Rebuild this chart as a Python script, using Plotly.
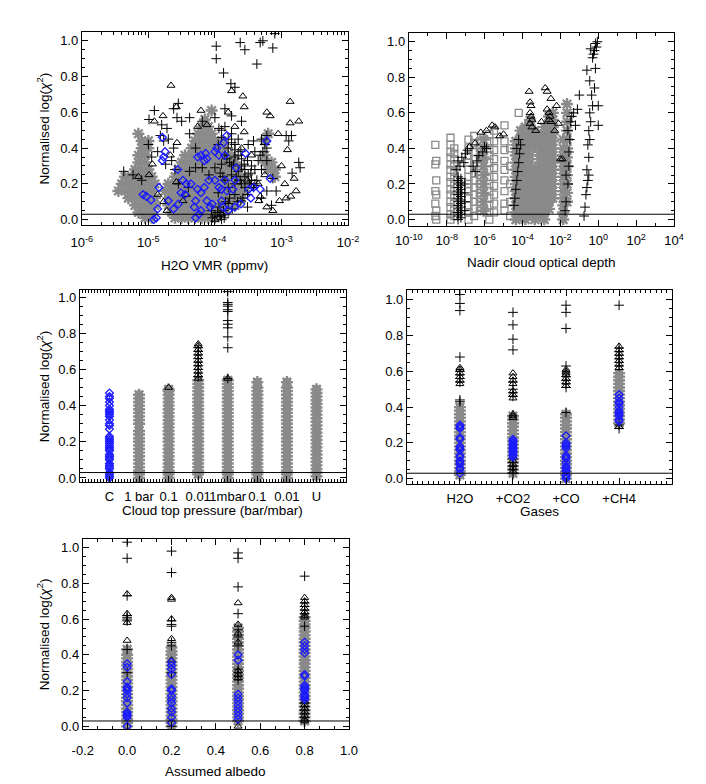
import plotly.graph_objects as go

## Panel 1: H2O VMR (log10 of VMR) vs normalised log(chi^2)
p1_gray = [(-5.05,0.01),(-4.95,0.01),(-4.6,0.01),(-4.5,0.01),(-4.4,0.01),(-4.3,0.01),(-4.2,0.01),(-4.1,0.01),(-4.0,0.01),
    (-5.15,0.04),(-5.05,0.04),(-4.95,0.04),(-4.65,0.04),(-4.55,0.04),(-4.45,0.04),(-4.35,0.04),(-4.25,0.04),(-4.15,0.04),(-4.05,0.04),(-3.95,0.04),(-3.85,0.04),
    (-5.2,0.08),(-5.1,0.08),(-5.0,0.08),(-4.9,0.08),(-4.7,0.08),(-4.6,0.08),(-4.5,0.08),(-4.4,0.08),(-4.3,0.08),(-4.2,0.08),(-4.1,0.08),(-4.0,0.08),(-3.9,0.08),(-3.8,0.08),(-3.7,0.08),
    (-5.3,0.12),(-5.2,0.12),(-5.1,0.12),(-5.0,0.12),(-4.9,0.12),(-4.7,0.12),(-4.6,0.12),(-4.5,0.12),(-4.4,0.12),(-4.3,0.12),(-4.2,0.12),(-4.1,0.12),(-4.0,0.12),(-3.9,0.12),(-3.8,0.12),(-3.7,0.12),(-3.6,0.12),
    (-5.45,0.16),(-5.35,0.16),(-5.25,0.16),(-5.15,0.16),(-5.05,0.16),(-4.95,0.16),(-4.75,0.16),(-4.65,0.16),(-4.55,0.16),(-4.45,0.16),(-4.35,0.16),(-4.25,0.16),(-4.15,0.16),(-4.05,0.16),(-3.95,0.16),(-3.85,0.16),(-3.75,0.16),(-3.65,0.16),(-3.55,0.16),
    (-5.4,0.2),(-5.3,0.2),(-5.2,0.2),(-5.1,0.2),(-5.0,0.2),(-4.9,0.2),(-4.7,0.2),(-4.6,0.2),(-4.5,0.2),(-4.4,0.2),(-4.3,0.2),(-4.2,0.2),(-4.1,0.2),(-4.0,0.2),(-3.9,0.2),(-3.8,0.2),(-3.7,0.2),(-3.6,0.2),(-3.5,0.2),
    (-5.35,0.24),(-5.25,0.24),(-5.15,0.24),(-5.05,0.24),(-4.95,0.24),(-4.6,0.24),(-4.5,0.24),(-4.4,0.24),(-4.3,0.24),(-4.2,0.24),(-4.1,0.24),(-4.0,0.24),(-3.9,0.24),(-3.8,0.24),(-3.7,0.24),(-3.6,0.24),(-3.1,0.24),
    (-5.2,0.28),(-5.1,0.28),(-5.0,0.28),(-4.55,0.28),(-4.45,0.28),(-4.35,0.28),(-4.25,0.28),(-4.15,0.28),(-4.05,0.28),(-3.95,0.28),(-3.85,0.28),(-3.75,0.28),(-3.65,0.28),(-3.2,0.28),(-3.1,0.28),
    (-5.15,0.32),(-5.05,0.32),(-4.5,0.32),(-4.4,0.32),(-4.3,0.32),(-4.2,0.32),(-4.1,0.32),(-4.0,0.32),(-3.9,0.32),(-3.8,0.32),(-3.7,0.32),(-3.25,0.32),(-3.15,0.32),
    (-5.15,0.36),(-5.05,0.36),(-4.45,0.36),(-4.35,0.36),(-4.25,0.36),(-4.15,0.36),(-4.05,0.36),(-3.95,0.36),(-3.85,0.36),(-3.75,0.36),(-3.25,0.36),
    (-5.1,0.4),(-5.0,0.4),(-4.35,0.4),(-4.25,0.4),(-4.15,0.4),(-4.05,0.4),(-3.95,0.4),(-3.85,0.4),
    (-5.1,0.44),(-5.0,0.44),(-4.3,0.44),(-4.2,0.44),(-4.1,0.44),(-4.0,0.44),(-3.9,0.44),(-3.25,0.44),
    (-5.15,0.48),(-4.25,0.48),(-4.15,0.48),(-4.05,0.48),(-3.2,0.48),
    (-4.2,0.52),(-4.1,0.52),(-4.15,0.56),(-4.05,0.61)]
p1_cross = [(-3.98,0.97),(-3.98,0.9),(-3.87,0.82),(-3.62,0.99),(-3.55,0.95),(-3.32,0.99),(-3.28,1.0),(-3.37,0.87),(-3.13,0.96),(-3.1,1.04),(-3.76,0.76),(-3.7,0.74),
    (-4.99,0.56),(-4.91,0.61),(-4.62,0.62),(-4.55,0.65),(-4.57,0.57),(-4.72,0.51),(-4.82,0.47),(-4.77,0.44),(-4.62,0.4),(-4.86,0.38),(-4.74,0.31),(-4.38,0.57),
    (-4.19,0.55),(-4.0,0.57),(-3.94,0.51),(-3.9,0.46),(-3.8,0.4),(-3.7,0.35),(-3.61,0.38),(-3.51,0.33),(-3.42,0.44),(-3.32,0.36),(-3.22,0.4),(-3.22,0.33),
    (-3.13,0.23),(-3.08,0.16),(-3.22,0.16),(-3.37,0.22),(-3.46,0.26),(-3.56,0.31),(-3.75,0.25),(-3.9,0.31),(-4.0,0.29),(-4.09,0.25),(-4.19,0.29),(-4.29,0.29),
    (-4.38,0.27),(-3.94,0.07),(-4.04,0.01),(-3.87,0.05),(-3.8,0.09),(-3.7,0.14),(-3.61,0.105),(-3.51,0.14),(-3.42,0.18),(-3.51,0.07),(-2.93,0.47),(-2.89,0.44),
    (-2.85,0.47),(-2.74,0.32),(-2.72,0.29),(-2.84,0.26),(-3.22,0.47),(-5.37,0.27),(-5.23,0.25),(-4.38,0.48),(-4.29,0.4),(-3.75,0.58),(-3.85,0.62),(-3.6,0.55),
    (-3.5,0.42),(-3.65,0.45),(-3.75,0.48),(-3.45,0.3),(-3.3,0.28),(-3.6,0.2),(-3.7,0.2),(-3.8,0.18),(-3.95,0.15),(-4.05,0.05),(-4.0,0.02),(-3.9,0.0),
    (-4.5,0.55),(-4.8,0.53),(-5.0,0.42),(-4.95,0.35),(-4.7,0.45),(-4.65,0.33),(-5.1,0.22),(-4.55,0.2),(-4.4,0.18),(-4.6,0.28),(-3.3,0.12),(-3.15,0.08),
    (-3.25,0.42),(-3.4,0.38),(-3.85,0.36),(-3.75,0.3),(-3.65,0.27),(-3.55,0.24),(-3.85,0.22),(-3.95,0.42),(-3.7,0.42),(-3.6,0.34),
    (-3.9,0.5),(-3.85,0.52),(-3.8,0.45),(-3.75,0.43),(-3.7,0.39),(-3.65,0.36),(-3.6,0.3),(-3.55,0.28),(-3.5,0.25),(-3.45,0.22),(-3.4,0.2),(-3.82,0.34),
    (-3.78,0.32),(-3.72,0.31),(-3.68,0.24),(-3.62,0.22),(-3.92,0.26),(-3.88,0.24),(-3.96,0.04),(-3.92,0.02),(-3.86,0.01),(-3.84,0.1),(-3.78,0.12),
    (-3.74,0.06),(-3.66,0.1),(-3.58,0.12),(-3.55,0.18),(-3.48,0.2),(-3.4,0.28),(-3.35,0.33),(-3.3,0.45),(-3.28,0.38)]
p1_tri = [(-4.66,0.75),(-4.58,0.63),(-4.78,0.58),(-4.91,0.55),(-2.87,0.66),(-2.74,0.55),(-2.87,0.54),(-3.05,0.48),(-2.91,0.39),(-2.81,0.23),(-2.78,0.16),
    (-2.86,0.13),(-2.93,0.12),(-3.03,0.105),(-3.13,0.05),(-3.22,0.07),(-3.34,0.105),(-3.32,0.13),(-3.51,0.22),(-3.56,0.63),(-3.58,0.69),(-3.75,0.72),
    (-3.8,0.6),(-4.12,0.53),(-4.21,0.61),(-4.26,0.52),(-3.56,0.49),(-3.22,0.6),(-3.17,0.58),(-4.72,0.05),(-4.77,0.1),(-4.48,0.105),(-4.43,0.14),
    (-4.86,0.14),(-4.58,0.21),(-4.99,0.25),(-4.94,0.31),(-4.67,0.36),(-4.57,0.43),(-4.0,0.0),(-3.9,0.03),(-5.15,0.24),(-3.45,0.36),(-3.25,0.25),
    (-3.35,0.2),(-3.6,0.4),(-3.7,0.52),(-3.0,0.3),(-2.95,0.2)]
p1_blue = [(-4.79,0.46),(-4.75,0.38),(-4.77,0.35),(-4.79,0.33),(-4.56,0.28),(-5.08,0.14),(-5.03,0.13),(-4.96,0.11),(-4.86,0.06),(-4.88,0.01),(-4.92,0.0),
    (-4.84,0.18),(-4.7,0.105),(-4.62,0.06),(-4.55,0.087),(-4.51,0.15),(-4.48,0.22),(-4.43,0.2),(-4.36,0.2),(-4.31,0.07),(-4.29,0.01),(-4.24,0.03),
    (-4.21,0.05),(-4.26,0.17),(-4.21,0.15),(-4.16,0.18),(-4.26,0.35),(-4.21,0.36),(-4.14,0.37),(-4.16,0.33),(-4.12,0.34),(-4.09,0.22),(-4.12,0.105),
    (-4.07,0.07),(-4.04,0.087),(-4.0,0.38),(-3.97,0.4),(-3.94,0.36),(-4.0,0.22),(-3.94,0.18),(-3.9,0.105),(-3.9,0.17),(-3.85,0.22),(-3.88,0.07),
    (-3.85,0.36),(-3.8,0.05),(-3.82,0.16),(-3.73,0.17),(-3.7,0.22),(-3.68,0.29),(-3.7,0.07),(-3.61,0.087),(-3.54,0.37),(-3.49,0.17),(-3.46,0.12),
    (-3.42,0.18),(-3.32,0.17),(-3.22,0.44),(-3.17,0.23),(-3.82,0.47),(-3.87,0.43),(-4.29,0.105),(-4.45,0.14)]

## Panel 2: nadir cloud optical depth (log10)
p2_gray_sq = [(-8.6,0.42),(-8.55,0.33),(-8.6,0.31),(-8.55,0.22),(-8.6,0.16),(-8.55,0.14),(-8.6,0.09),(-8.55,0.05),(-8.6,0.02),(-8.55,0.0),
    (-7.8,0.0),(-7.8,0.03),(-7.8,0.07),(-7.8,0.1),(-7.8,0.14),(-7.8,0.17),(-7.8,0.21),(-7.8,0.24),(-7.8,0.28),(-7.8,0.31),(-7.8,0.35),(-7.8,0.38),(-7.8,0.42),(-7.8,0.46),
    (-7.6,0.02),(-7.6,0.06),(-7.6,0.09),(-7.6,0.13),(-7.6,0.16),(-7.6,0.2),(-7.6,0.23),(-7.6,0.27),(-7.6,0.3),(-7.6,0.34),(-7.6,0.37),(-7.6,0.4),
    (-6.85,0.0),(-6.85,0.04),(-6.85,0.08),(-6.85,0.12),(-6.85,0.16),(-6.85,0.2),(-6.85,0.24),(-6.85,0.28),(-6.85,0.32),(-6.85,0.36),(-6.85,0.4),(-6.85,0.45),
    (-6.55,0.02),(-6.55,0.06),(-6.55,0.1),(-6.55,0.14),(-6.55,0.18),(-6.55,0.22),(-6.55,0.26),(-6.55,0.3),(-6.55,0.34),(-6.55,0.38),(-6.55,0.43),(-6.55,0.47),
    (-6.25,0.05),(-6.25,0.1),(-6.25,0.15),(-6.25,0.2),(-6.25,0.25),(-6.25,0.3),(-6.25,0.35),(-6.25,0.4),(-6.25,0.44),
    (-5.75,0.0),(-5.75,0.04),(-5.75,0.08),(-5.75,0.12),(-5.75,0.16),(-5.75,0.2),(-5.75,0.24),(-5.75,0.28),(-5.75,0.32),(-5.75,0.36),(-5.75,0.4),(-5.75,0.44),(-5.75,0.48),
    (-5.5,0.04),(-5.5,0.09),(-5.5,0.14),(-5.5,0.19),(-5.5,0.24),(-5.5,0.29),(-5.5,0.34),(-5.5,0.39),(-5.5,0.44),(-5.5,0.5),
    (-4.95,0.05),(-4.95,0.09),(-4.95,0.16),(-4.95,0.22),(-4.95,0.28),(-4.95,0.33),(-4.95,0.39),(-4.95,0.44),(-4.95,0.53),
    (-4.65,0.02),(-4.65,0.1),(-4.65,0.2),(-4.65,0.3),(-4.65,0.4),(-4.2,0.6)]
p2_gray_ast = [(-6.05,0.05),(-6.05,0.1),(-6.05,0.15),(-6.05,0.2),(-6.05,0.25),(-6.05,0.3),(-6.05,0.35),(-6.05,0.4),(-6.05,0.45),
    (-4.35,0.0),(-4.35,0.04),(-4.35,0.08),(-4.35,0.12),(-4.35,0.16),(-4.35,0.2),(-4.35,0.24),(-4.35,0.28),(-4.35,0.32),(-4.35,0.36),(-4.35,0.4),(-4.35,0.44),
    (-4.1,0.02),(-4.1,0.06),(-4.1,0.1),(-4.1,0.14),(-4.1,0.18),(-4.1,0.22),(-4.1,0.26),(-4.1,0.3),(-4.1,0.34),(-4.1,0.38),(-4.1,0.42),(-4.1,0.46),(-4.1,0.5),
    (-3.85,0.0),(-3.85,0.04),(-3.85,0.08),(-3.85,0.12),(-3.85,0.16),(-3.85,0.2),(-3.85,0.24),(-3.85,0.28),(-3.85,0.32),(-3.85,0.36),(-3.85,0.4),(-3.85,0.44),(-3.85,0.48),(-3.85,0.52),
    (-3.6,0.04),(-3.6,0.08),(-3.6,0.12),(-3.6,0.16),(-3.6,0.2),(-3.6,0.24),(-3.6,0.28),(-3.6,0.32),(-3.6,0.36),(-3.6,0.4),(-3.6,0.44),(-3.6,0.48),(-3.6,0.52),(-3.6,0.56),
    (-3.35,0.0),(-3.35,0.04),(-3.35,0.08),(-3.35,0.12),(-3.35,0.16),(-3.35,0.2),(-3.35,0.24),(-3.35,0.28),(-3.35,0.42),(-3.35,0.46),(-3.35,0.5),
    (-3.1,0.02),(-3.1,0.06),(-3.1,0.1),(-3.1,0.14),(-3.1,0.18),(-3.1,0.22),(-3.1,0.26),(-3.1,0.3),(-3.1,0.34),(-3.1,0.38),(-3.1,0.42),(-3.1,0.46),
    (-2.85,0.0),(-2.85,0.04),(-2.85,0.08),(-2.85,0.12),(-2.85,0.16),(-2.85,0.2),(-2.85,0.24),(-2.85,0.28),(-2.85,0.32),(-2.85,0.36),(-2.85,0.4),(-2.85,0.44),(-2.85,0.48),(-2.85,0.52),
    (-2.6,0.06),(-2.6,0.1),(-2.6,0.14),(-2.6,0.18),(-2.6,0.22),(-2.6,0.26),(-2.6,0.3),(-2.6,0.34),(-2.6,0.38),(-2.6,0.42),(-2.6,0.46),(-2.6,0.5),(-2.6,0.54),(-2.6,0.58),
    (-2.4,0.12),(-2.4,0.16),(-2.4,0.2),(-2.4,0.24),(-2.4,0.28),(-2.4,0.32),(-2.4,0.36),(-2.4,0.4),(-2.4,0.44),(-2.4,0.48),(-2.4,0.52),(-2.4,0.56),(-2.4,0.6),
    (-1.85,0.0),(-1.85,0.04),(-1.85,0.08),(-1.85,0.12),(-1.85,0.16),(-1.85,0.2),(-1.85,0.24),(-1.85,0.28),(-1.85,0.32),(-1.85,0.36),(-1.85,0.4),(-1.85,0.45),
    (-1.65,0.1),(-1.65,0.15),(-1.65,0.2),(-1.65,0.25),(-1.65,0.3),(-1.65,0.35),(-1.65,0.4),(-1.65,0.45),(-1.65,0.5),(-1.65,0.55),(-1.65,0.6),(-1.65,0.65)]
p2_cross = [(-7.4,0.0),(-7.4,0.02),(-7.4,0.04),(-7.4,0.06),(-7.4,0.08),(-7.4,0.1),(-7.4,0.12),(-7.4,0.14),(-7.4,0.16),(-7.4,0.18),(-7.4,0.2),(-7.4,0.22),(-7.4,0.24),
    (-7.25,0.01),(-7.25,0.03),(-7.25,0.05),(-7.25,0.07),(-7.25,0.09),(-7.25,0.11),(-7.25,0.13),(-7.25,0.15),(-7.25,0.17),(-7.25,0.19),(-7.25,0.21),(-7.25,0.23),
    (-7.05,0.05),(-7.05,0.1),(-7.05,0.15),(-7.05,0.2),
    (-7.5,0.28),(-7.3,0.3),(-7.1,0.32),(-7.2,0.35),(-7.0,0.37),(-6.9,0.39),(-7.4,0.33),
    (-6.6,0.3),(-6.4,0.33),(-6.3,0.36),(-6.1,0.38),(-6.0,0.41),(-5.9,0.4),(-6.5,0.27),
    (-4.45,0.08),(-4.4,0.12),(-4.35,0.17),(-4.3,0.22),(-4.25,0.27),(-4.2,0.32),(-4.15,0.37),(-4.1,0.42),(-4.3,0.4),(-4.2,0.45),
    (-1.75,0.05),(-1.7,0.1),(-1.6,0.2),(-1.7,0.25),(-1.55,0.3),(-1.5,0.45),(-1.6,0.5),(-1.45,0.55),(-1.4,0.58),(-1.3,0.6),(-1.2,0.53),(-1.1,0.62),(-1.0,0.7),(-1.55,0.38),
    (-0.75,0.02),(-0.7,0.07),(-0.65,0.14),(-0.6,0.18),(-0.55,0.22),(-0.5,0.25),(-0.6,0.28),(-0.5,0.35),(-0.55,0.42),(-0.45,0.45),(-0.5,0.5),(-0.4,0.55),
    (-0.45,0.6),(-0.3,0.64),(-0.35,0.7),(-0.2,0.74),(-0.45,0.78),(-0.6,0.84),(-0.3,0.91),(-0.25,0.93),(-0.2,0.95),(-0.1,0.97),(-0.05,1.0),(0.0,0.53),
    (0.0,0.64),(-0.15,0.85),(-0.4,0.96),(-0.15,0.99)]
p2_tri = [(-6.2,0.49),(-5.9,0.5),(-5.6,0.53),(-5.45,0.52),(-6.5,0.43),(-6.8,0.41),(-5.2,0.47),(-5.0,0.48),
    (-3.65,0.72),(-3.6,0.66),(-3.55,0.64),(-3.6,0.6),(-3.55,0.58),(-3.5,0.56),(-3.6,0.54),(-3.5,0.52),
    (-2.8,0.74),(-2.7,0.72),(-2.5,0.68),(-2.2,0.64),(-2.7,0.62),(-2.6,0.6),(-2.55,0.58),(-2.6,0.56),(-2.5,0.55),(-2.3,0.5),
    (-2.1,0.54),(-2.0,0.34),(-1.9,0.34),(-3.3,0.5),(-3.0,0.55)]

## Panel 3: cloud top pressure categories
cloud_labels = ["C", "1 bar", "0.1", "0.01", "1mbar", "0.1", "0.01", "U"]
cloud_gray = [
    [],
    [0.0,0.02,0.04,0.06,0.08,0.1,0.12,0.14,0.16,0.18,0.2,0.22,0.24,0.26,0.3,0.32,0.34,0.36,0.38,0.4,0.42,0.44,0.46],
    [0.0,0.02,0.04,0.06,0.08,0.1,0.12,0.14,0.16,0.18,0.2,0.22,0.24,0.26,0.28,0.3,0.32,0.34,0.36,0.38,0.4,0.42,0.44,0.46,0.48,0.49],
    [0.02,0.04,0.06,0.08,0.1,0.12,0.14,0.16,0.18,0.2,0.22,0.24,0.26,0.28,0.3,0.32,0.34,0.36,0.38,0.4,0.42,0.44,0.46,0.48,0.5,0.52,0.54],
    [0.0,0.02,0.04,0.06,0.08,0.1,0.12,0.14,0.16,0.18,0.2,0.22,0.24,0.26,0.28,0.3,0.32,0.34,0.36,0.38,0.4,0.42,0.44,0.46,0.48,0.5,0.52,0.54],
    [0.0,0.02,0.04,0.06,0.08,0.1,0.12,0.14,0.16,0.18,0.2,0.22,0.24,0.26,0.28,0.3,0.32,0.34,0.36,0.38,0.4,0.42,0.44,0.46,0.48,0.5,0.53],
    [0.0,0.02,0.04,0.06,0.08,0.1,0.12,0.14,0.16,0.18,0.2,0.22,0.24,0.26,0.28,0.3,0.32,0.34,0.36,0.38,0.4,0.42,0.44,0.46,0.48,0.5,0.53],
    [0.01,0.03,0.05,0.07,0.09,0.11,0.13,0.15,0.17,0.19,0.21,0.23,0.25,0.27,0.29,0.31,0.33,0.35,0.37,0.39,0.41,0.43,0.45,0.47,0.49]]
cloud_cross = [[], [], [], [0.56,0.58,0.6,0.62,0.64,0.66,0.68,0.7,0.72], [0.55,0.72,0.78,0.83,0.85,0.87,0.92,0.93,0.95,0.96,0.97,1.03], [], [], []]
cloud_tri = [[], [], [0.5], [0.55,0.57,0.59,0.61,0.63,0.65,0.67,0.69,0.71,0.73,0.74], [0.55], [], [], []]
cloud_blue = [[0.0,0.01,0.02,0.03,0.05,0.06,0.07,0.08,0.1,0.11,0.12,0.13,0.15,0.16,0.17,0.18,0.19,0.2,0.21,0.22,0.23,
               0.27,0.29,0.3,0.32,0.34,0.35,0.36,0.37,0.38,0.4,0.42,0.44,0.45,0.47], [], [], [], [], [], [], []]

## Panel 4: gases
gas_labels = ["H2O", "+CO2", "+CO", "+CH4"]
gas_gray = [
    [0.02,0.04,0.06,0.08,0.1,0.12,0.14,0.16,0.18,0.2,0.22,0.24,0.26,0.28,0.3,0.32,0.34,0.36,0.38,0.4],
    [0.03,0.05,0.07,0.09,0.11,0.13,0.15,0.17,0.19,0.21,0.23,0.25,0.27,0.29,0.31,0.33,0.35],
    [0.0,0.02,0.04,0.06,0.08,0.1,0.12,0.14,0.16,0.18,0.2,0.22,0.24,0.26,0.28,0.3,0.32,0.34,0.36],
    [0.31,0.33,0.35,0.37,0.39,0.41,0.43,0.45,0.47,0.49,0.51,0.53,0.55,0.57,0.59]]
gas_cross = [[0.43,0.44,0.54,0.56,0.58,0.6,0.68,0.94,0.98,1.03],
             [0.03,0.05,0.07,0.09,0.11,0.46,0.48,0.5,0.54,0.72,0.78,0.86,0.93],
             [0.37,0.51,0.53,0.55,0.57,0.63,0.84,0.93,0.97],
             [0.28,0.3,0.63,0.65,0.67,0.69,0.71,0.73,0.97]]
gas_tri = [[0.53,0.55,0.57,0.59,0.61,0.62],
           [0.04,0.06,0.08,0.1,0.34,0.35,0.36,0.45,0.47,0.49,0.53,0.55,0.57,0.59],
           [0.52,0.54,0.56,0.58,0.59,0.6,0.61],
           [0.29,0.62,0.64,0.66,0.68,0.7,0.72,0.74]]
gas_blue = [[0.03,0.05,0.06,0.08,0.09,0.1,0.12,0.13,0.16,0.17,0.18,0.22,0.23,0.28,0.29,0.3],
            [0.12,0.13,0.14,0.15,0.16,0.17,0.18,0.19,0.2,0.21,0.22],
            [0.0,0.01,0.02,0.04,0.05,0.06,0.07,0.09,0.11,0.12,0.13,0.17,0.18,0.19,0.2,0.24],
            [0.32,0.33,0.35,0.36,0.37,0.38,0.4,0.42,0.43,0.45,0.47]]

## Panel 5: assumed albedo
albedo = [0.0, 0.2, 0.5, 0.8]
alb_gray = [
    [0.0,0.02,0.04,0.06,0.08,0.1,0.12,0.14,0.16,0.18,0.2,0.22,0.24,0.26,0.28,0.3,0.32,0.34,0.36,0.38,0.4,0.43],
    [0.0,0.02,0.04,0.06,0.08,0.1,0.12,0.14,0.16,0.18,0.2,0.22,0.24,0.26,0.28,0.3,0.32,0.34,0.36,0.38,0.4,0.42,0.44],
    [0.03,0.05,0.07,0.09,0.11,0.13,0.15,0.17,0.19,0.21,0.23,0.25,0.27,0.29,0.31,0.33,0.35,0.37,0.39,0.41,0.43,0.45,0.47,0.49,0.51,0.53,0.55],
    [0.03,0.05,0.07,0.09,0.11,0.13,0.15,0.17,0.19,0.21,0.23,0.25,0.27,0.29,0.31,0.33,0.35,0.37,0.39,0.41,0.43,0.45,0.47,0.49,0.51,0.53,0.55,0.57,0.59,0.61]]
alb_cross = [[0.3,0.43,0.59,0.6,0.61,0.62,0.73,0.94,1.03],
             [0.0,0.3,0.45,0.47,0.56,0.57,0.59,0.86,0.98],
             [0.26,0.28,0.3,0.32,0.45,0.5,0.54,0.63,0.78,0.94,0.97],
             [0.05,0.07,0.09,0.11,0.13,0.56,0.63,0.65,0.67,0.69,0.84]]
alb_tri = [[0.48,0.58,0.63,0.74],
           [0.37,0.49,0.6,0.71,0.72],
           [0.0,0.27,0.29,0.31,0.47,0.52,0.57,0.69],
           [0.03,0.04,0.06,0.08,0.1,0.12,0.14,0.61,0.62,0.64,0.66,0.68,0.7,0.72]]
alb_blue = [[0.0,0.05,0.06,0.07,0.08,0.13,0.16,0.18,0.2,0.21,0.22,0.25,0.33,0.35],
            [0.02,0.05,0.08,0.1,0.13,0.15,0.17,0.2,0.21,0.29,0.32,0.34,0.36],
            [0.04,0.06,0.08,0.1,0.12,0.14,0.16,0.18,0.37,0.4],
            [0.15,0.16,0.17,0.18,0.2,0.21,0.22,0.23,0.28,0.29,0.41,0.43,0.45,0.47]]

threshold = 0.03

GRAY = "#8a8a8a"
BLUE = "#1a1aff"
FONT = "Liberation Sans, Arial, sans-serif"

styles = {
    "gray": dict(symbol="asterisk-open", size=10, line=dict(color=GRAY, width=2.4), color=GRAY),
    "graycol": dict(symbol="square", size=8, line=dict(color=GRAY, width=0), color=GRAY),
    "graysq": dict(symbol="square-open", size=7, line=dict(color=GRAY, width=1.3), color=GRAY),
    "tri": dict(symbol="triangle-up-open", size=7, line=dict(color="black", width=1), color="black"),
    "cross": dict(symbol="cross-thin-open", size=7, line=dict(color="black", width=1), color="black"),
    "blue": dict(symbol="diamond-open", size=6, line=dict(color=BLUE, width=1.3), color=BLUE),
}


def ax(n, letter):
    return letter if n == 1 else letter + str(n)


fig = go.Figure()


def add_pairs(pairs, n, style, log=True):
    if not pairs:
        return
    xs = [10 ** p[0] if log else p[0] for p in pairs]
    ys = [p[1] for p in pairs]
    fig.add_trace(go.Scatter(x=xs, y=ys, mode="markers", marker=styles[style],
                             xaxis=ax(n, "x"), yaxis=ax(n, "y"), showlegend=False))


def add_columns(positions, columns, n, style):
    xs, ys = [], []
    for pos, col in zip(positions, columns):
        xs += [pos] * len(col)
        ys += col
    if xs:
        fig.add_trace(go.Scatter(x=xs, y=ys, mode="markers", marker=styles[style],
                                 xaxis=ax(n, "x"), yaxis=ax(n, "y"), showlegend=False))


# panel 1
add_pairs(p1_gray, 1, "gray")
add_pairs(p1_tri, 1, "tri")
add_pairs(p1_cross, 1, "cross")
add_pairs(p1_blue, 1, "blue")
# panel 2
add_pairs(p2_gray_sq, 2, "graysq")
add_pairs(p2_gray_ast, 2, "gray")
add_pairs(p2_tri, 2, "tri")
add_pairs(p2_cross, 2, "cross")
# panel 3
cloud_pos = list(range(1, len(cloud_labels) + 1))
add_columns(cloud_pos, cloud_gray, 3, "graycol")
add_columns(cloud_pos, cloud_gray, 3, "gray")
add_columns(cloud_pos, cloud_tri, 3, "tri")
add_columns(cloud_pos, cloud_cross, 3, "cross")
add_columns(cloud_pos, cloud_blue, 3, "blue")
# panel 4
gas_pos = list(range(1, len(gas_labels) + 1))
add_columns(gas_pos, gas_gray, 4, "graycol")
add_columns(gas_pos, gas_gray, 4, "gray")
add_columns(gas_pos, gas_tri, 4, "tri")
add_columns(gas_pos, gas_cross, 4, "cross")
add_columns(gas_pos, gas_blue, 4, "blue")
# panel 5
add_columns(albedo, alb_gray, 5, "graycol")
add_columns(albedo, alb_gray, 5, "gray")
add_columns(albedo, alb_tri, 5, "tri")
add_columns(albedo, alb_cross, 5, "cross")
add_columns(albedo, alb_blue, 5, "blue")

W, H = 706, 784
# pixel boxes (left, right, top, bottom)
boxes = {1: (62, 338, 23, 217), 2: (401, 676, 24, 218), 3: (60, 336, 283, 476),
         4: (399, 674, 283, 478), 5: (63, 339, 533, 725)}
yranges = {1: [-0.028, 1.05], 2: [-0.034, 1.05], 3: [-0.022, 1.038], 4: [-0.03, 1.054], 5: [-0.017, 1.05]}
xstandoff = {1: 6, 2: 3, 3: 2, 4: 2, 5: 9}

axis_common = dict(showline=True, linecolor="black", linewidth=1, mirror="ticks", ticks="inside",
                   ticklen=6, tickcolor="black", showgrid=False, zeroline=False,
                   tickfont=dict(family=FONT, size=13, color="black"))

layout = {}
for n, (l, r, t, b) in boxes.items():
    layout[ax(n, "xaxis")] = dict(axis_common, domain=[l / W, r / W], anchor=ax(n, "y"),
                                  tickangle=0, ticklabelstandoff=xstandoff[n])
    layout[ax(n, "yaxis")] = dict(axis_common, domain=[1 - b / H, 1 - t / H], anchor=ax(n, "x"),
                                  range=yranges[n], tickvals=[0, 0.2, 0.4, 0.6, 0.8, 1.0],
                                  ticktext=["0.0", "0.2", "0.4", "0.6", "0.8", "1.0"],
                                  minor=dict(ticks="inside", ticklen=3, dtick=0.05, tickcolor="black"))

layout["xaxis"].update(type="log", range=[-6, -2], tickvals=[1e-6, 1e-5, 1e-4, 1e-3, 1e-2],
                       ticktext=["10<sup>-6</sup>", "10<sup>-5</sup>", "10<sup>-4</sup>", "10<sup>-3</sup>", "10<sup>-2</sup>"],
                       minor=dict(ticks="inside", ticklen=3, dtick="D1", tickcolor="black"))
layout["xaxis2"].update(type="log", range=[-10, 4], tickvals=[10.0 ** e for e in range(-10, 5, 2)],
                        ticktext=["10<sup>%d</sup>" % e for e in range(-10, 5, 2)],
                        minor=dict(ticks="inside", ticklen=3, dtick=1, tickcolor="black"))
layout["xaxis3"].update(range=[0, 9], tickvals=cloud_pos, ticktext=cloud_labels,
                        minor=dict(ticks="inside", ticklen=3, dtick=0.1, tickcolor="black"))
layout["xaxis4"].update(range=[0, 5], tickvals=gas_pos, ticktext=gas_labels,
                        minor=dict(ticks="inside", ticklen=3, dtick=0.1, tickcolor="black"))
layout["xaxis5"].update(range=[-0.2, 1.0], tickvals=[-0.2, 0, 0.2, 0.4, 0.6, 0.8, 1.0],
                        ticktext=["-0.2", "0.0", "0.2", "0.4", "0.6", "0.8", "1.0"],
                        minor=dict(ticks="inside", ticklen=3, dtick=0.2 / 3, tick0=-0.2, tickcolor="black"))

# threshold lines
shapes = []
for n in boxes:
    shapes.append(dict(type="line", xref=ax(n, "x") + " domain", yref=ax(n, "y"),
                       x0=0, x1=1, y0=threshold, y1=threshold, line=dict(color="black", width=1)))

ylab = "Normalised log(<i>χ</i><sup>2</sup>)"
annotations = []
for n, text, ypix in [(1, "H2O VMR (ppmv)", 258), (2, "Nadir cloud optical depth", 255),
                      (3, "Cloud top pressure (bar/mbar)", 505), (4, "Gases", 506), (5, "Assumed albedo", 767)]:
    l, r, t, b = boxes[n]
    annotations.append(dict(text=text, x=(l + r) / 2 / W, y=1 - ypix / H, xref="paper", yref="paper",
                            showarrow=False, xanchor="center", yanchor="middle",
                            font=dict(family=FONT, size=13.5, color="black")))
for n in (1, 3, 5):
    l, r, t, b = boxes[n]
    annotations.append(dict(text=ylab, x=22 / W, y=1 - (t + b) / 2 / H, xref="paper", yref="paper",
                            showarrow=False, textangle=-90, xanchor="center", yanchor="middle",
                            font=dict(family=FONT, size=13.5, color="black")))

fig.update_layout(width=W, height=H, margin=dict(l=0, r=0, t=0, b=0),
                  paper_bgcolor="white", plot_bgcolor="white",
                  shapes=shapes, annotations=annotations, **layout)

fig.write_html("out.html")
